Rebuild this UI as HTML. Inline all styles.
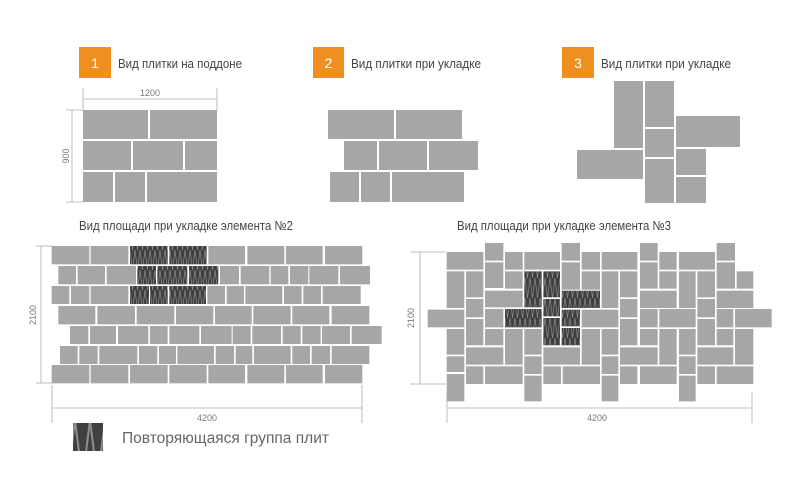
<!DOCTYPE html>
<html><head><meta charset="utf-8"><style>html,body{margin:0;padding:0;background:#fff}svg{display:block}</style></head><body>
<svg width="800" height="496" viewBox="0 0 800 496" xmlns="http://www.w3.org/2000/svg" font-family="'Liberation Sans', sans-serif">
<defs>
<pattern id="h" patternUnits="userSpaceOnUse" width="30" height="60">
<rect width="30" height="60" fill="#404040"/>
<polyline points="0,0 7.5,60 15,0 22.5,60 30,0" fill="none" stroke="#8e8e8e" stroke-width="2"/>
</pattern>
</defs>
<rect width="800" height="496" fill="#fff"/>
<rect x="79" y="47" width="32" height="31" fill="#ef8f1f"/>
<text x="95" y="68" font-size="14" fill="#fff" text-anchor="middle">1</text>
<text x="118" y="68" font-size="13" fill="#444" textLength="124" lengthAdjust="spacingAndGlyphs">Вид плитки на поддоне</text>
<rect x="313" y="47" width="31" height="31" fill="#ef8f1f"/>
<text x="328.5" y="68" font-size="14" fill="#fff" text-anchor="middle">2</text>
<text x="351" y="68" font-size="13" fill="#444" textLength="130" lengthAdjust="spacingAndGlyphs">Вид плитки при укладке</text>
<rect x="562" y="47" width="32" height="31" fill="#ef8f1f"/>
<text x="578" y="68" font-size="14" fill="#fff" text-anchor="middle">3</text>
<text x="601" y="68" font-size="13" fill="#444" textLength="130" lengthAdjust="spacingAndGlyphs">Вид плитки при укладке</text>

<g stroke="#aaa" stroke-width="0.8" fill="none">
<line x1="72" y1="110" x2="72" y2="202"/><line x1="66" y1="110" x2="83" y2="110"/><line x1="66" y1="202" x2="83" y2="202"/>
<line x1="83" y1="99" x2="217" y2="99"/><line x1="83" y1="88" x2="83" y2="110"/><line x1="217" y1="88" x2="217" y2="110"/>
</g>
<text x="150" y="96" font-size="9" fill="#777" text-anchor="middle">1200</text>
<text transform="translate(69,156) rotate(-90)" font-size="9" fill="#777" text-anchor="middle">900</text>

<g fill="#a6a6a6">
<rect x="83" y="110" width="65" height="29"/><rect x="150" y="110" width="67" height="29"/>
<rect x="83" y="141" width="48" height="29"/><rect x="133" y="141" width="50" height="29"/><rect x="185" y="141" width="32" height="29"/>
<rect x="83" y="172" width="30" height="30"/><rect x="115" y="172" width="30" height="30"/><rect x="147" y="172" width="70" height="30"/>
<rect x="328" y="110" width="66" height="29"/><rect x="396" y="110" width="66" height="29"/>
<rect x="344" y="141" width="33" height="29"/><rect x="379" y="141" width="48" height="29"/><rect x="429" y="141" width="49" height="29"/>
<rect x="330" y="172" width="29" height="30"/><rect x="361" y="172" width="29" height="30"/><rect x="392" y="172" width="72" height="30"/>
<rect x="614" y="81" width="29" height="67"/><rect x="645" y="81" width="29" height="46"/><rect x="645" y="129" width="29" height="28"/>
<rect x="676" y="116" width="64" height="31"/><rect x="577" y="150" width="66" height="29"/><rect x="645" y="159" width="29" height="44"/>
<rect x="676" y="149" width="30" height="26"/><rect x="676" y="177" width="30" height="26"/>
</g>

<text x="79" y="230" font-size="13" fill="#444" textLength="214" lengthAdjust="spacingAndGlyphs">Вид площади при укладке элемента №2</text>
<text x="457" y="230" font-size="13" fill="#444" textLength="214" lengthAdjust="spacingAndGlyphs">Вид площади при укладке элемента №3</text>

<g transform="translate(40,230) scale(0.33333)">
<g fill="#a6a6a6">
<rect x="35" y="48" width="113" height="55"/><rect x="152" y="48" width="113" height="55"/><rect x="505" y="48" width="110" height="55"/><rect x="622" y="48" width="111" height="55"/><rect x="738" y="48" width="110" height="55"/><rect x="855" y="48" width="112" height="55"/>
<rect x="55" y="108" width="53" height="55"/><rect x="113" y="108" width="82" height="55"/><rect x="200" y="108" width="88" height="55"/><rect x="540" y="108" width="57" height="55"/><rect x="602" y="108" width="86" height="55"/><rect x="692" y="108" width="53" height="55"/><rect x="750" y="108" width="55" height="55"/><rect x="808" y="108" width="87" height="55"/><rect x="900" y="108" width="90" height="55"/>
<rect x="35" y="168" width="53" height="54"/><rect x="93" y="168" width="55" height="54"/><rect x="152" y="168" width="113" height="54"/><rect x="502" y="168" width="53" height="54"/><rect x="560" y="168" width="52" height="54"/><rect x="616" y="168" width="111" height="54"/><rect x="732" y="168" width="53" height="54"/><rect x="790" y="168" width="53" height="54"/><rect x="848" y="168" width="114" height="54"/>
<rect x="55" y="228" width="111" height="55"/><rect x="172" y="228" width="113" height="55"/><rect x="290" y="228" width="113" height="55"/><rect x="408" y="228" width="112" height="55"/><rect x="525" y="228" width="110" height="55"/><rect x="640" y="228" width="112" height="55"/><rect x="757" y="228" width="111" height="55"/><rect x="875" y="228" width="113" height="55"/>
<rect x="90" y="288" width="55" height="54"/><rect x="150" y="288" width="78" height="54"/><rect x="234" y="288" width="91" height="54"/><rect x="330" y="288" width="53" height="54"/><rect x="388" y="288" width="90" height="54"/><rect x="483" y="288" width="92" height="54"/><rect x="578" y="288" width="54" height="54"/><rect x="637" y="288" width="86" height="54"/><rect x="728" y="288" width="54" height="54"/><rect x="787" y="288" width="55" height="54"/><rect x="846" y="288" width="84" height="54"/><rect x="935" y="288" width="90" height="54"/>
<rect x="60" y="348" width="53" height="54"/><rect x="118" y="348" width="55" height="54"/><rect x="178" y="348" width="114" height="54"/><rect x="297" y="348" width="55" height="54"/><rect x="357" y="348" width="51" height="54"/><rect x="412" y="348" width="110" height="54"/><rect x="527" y="348" width="55" height="54"/><rect x="587" y="348" width="50" height="54"/><rect x="642" y="348" width="110" height="54"/><rect x="757" y="348" width="53" height="54"/><rect x="815" y="348" width="55" height="54"/><rect x="875" y="348" width="113" height="54"/>
<rect x="35" y="405" width="113" height="55"/><rect x="152" y="405" width="113" height="55"/><rect x="270" y="405" width="113" height="55"/><rect x="388" y="405" width="112" height="55"/><rect x="505" y="405" width="110" height="55"/><rect x="622" y="405" width="111" height="55"/><rect x="738" y="405" width="110" height="55"/><rect x="855" y="405" width="112" height="55"/>
</g>
<g fill="url(#h)">
<rect x="270" y="48" width="113" height="55"/><rect x="388" y="48" width="112" height="55"/>
<rect x="292" y="108" width="56" height="55"/><rect x="352" y="108" width="90" height="55"/><rect x="447" y="108" width="88" height="55"/>
<rect x="270" y="168" width="57" height="54"/><rect x="330" y="168" width="53" height="54"/><rect x="388" y="168" width="110" height="54"/>
</g>
</g>
<g stroke="#aaa" stroke-width="0.8" fill="none">
<line x1="41" y1="246" x2="41" y2="383"/><line x1="36" y1="246" x2="52" y2="246"/><line x1="36" y1="383" x2="52" y2="383"/>
<line x1="52" y1="408" x2="362" y2="408"/><line x1="52" y1="385" x2="52" y2="423"/><line x1="362" y1="385" x2="362" y2="423"/>
</g>
<text transform="translate(36,315) rotate(-90)" font-size="9" fill="#777" text-anchor="middle">2100</text>
<text x="207" y="421" font-size="9" fill="#777" text-anchor="middle">4200</text>
<rect x="73" y="423" width="30" height="28" fill="url(#h)"/>
<text x="122" y="443" font-size="15.5" fill="#666" textLength="207" lengthAdjust="spacingAndGlyphs">Повторяющаяся группа плит</text>

<g transform="translate(425,238) scale(0.33333)">
<g fill="#a6a6a6">
<rect x="65" y="42" width="110" height="53"/><rect x="180" y="15" width="55" height="53"/><rect x="180" y="73" width="55" height="77"/><rect x="240" y="42" width="53" height="53"/><rect x="298" y="42" width="107" height="53"/><rect x="410" y="15" width="55" height="53"/><rect x="410" y="73" width="55" height="82"/><rect x="470" y="42" width="55" height="53"/>
<rect x="65" y="100" width="53" height="110"/><rect x="123" y="100" width="52" height="78"/><rect x="240" y="100" width="53" height="52"/><rect x="470" y="100" width="55" height="55"/><rect x="180" y="158" width="113" height="50"/><rect x="123" y="183" width="52" height="55"/>
<rect x="8" y="215" width="110" height="53"/><rect x="180" y="213" width="55" height="55"/><rect x="470" y="215" width="110" height="53"/><rect x="123" y="243" width="52" height="79"/>
<rect x="65" y="273" width="53" height="77"/><rect x="180" y="273" width="55" height="49"/><rect x="240" y="273" width="53" height="107"/><rect x="298" y="273" width="52" height="77"/><rect x="470" y="273" width="55" height="107"/>
<rect x="123" y="328" width="112" height="52"/><rect x="355" y="328" width="110" height="52"/><rect x="65" y="355" width="53" height="47"/><rect x="298" y="355" width="52" height="53"/>
<rect x="123" y="385" width="52" height="53"/><rect x="180" y="385" width="113" height="53"/><rect x="355" y="385" width="53" height="53"/><rect x="413" y="385" width="112" height="53"/>
<rect x="65" y="408" width="53" height="82"/><rect x="298" y="413" width="52" height="77"/>
</g>
<g fill="url(#h)">
<rect x="298" y="100" width="52" height="108"/><rect x="355" y="100" width="50" height="78"/><rect x="355" y="183" width="50" height="52"/><rect x="410" y="158" width="115" height="52"/>
<rect x="240" y="213" width="110" height="55"/><rect x="355" y="240" width="50" height="82"/><rect x="410" y="215" width="55" height="50"/><rect x="410" y="270" width="55" height="52"/>
</g>
</g>
<g transform="translate(600,238) scale(0.33333)" fill="#a6a6a6">
<rect x="5" y="42" width="107" height="53"/><rect x="120" y="15" width="53" height="53"/><rect x="120" y="73" width="53" height="79"/><rect x="178" y="42" width="52" height="53"/><rect x="237" y="42" width="108" height="53"/><rect x="350" y="15" width="55" height="53"/><rect x="350" y="73" width="55" height="79"/>
<rect x="5" y="100" width="50" height="110"/><rect x="60" y="100" width="52" height="78"/><rect x="178" y="100" width="52" height="52"/><rect x="237" y="100" width="50" height="110"/><rect x="292" y="100" width="53" height="78"/><rect x="410" y="100" width="50" height="52"/>
<rect x="120" y="158" width="110" height="52"/><rect x="60" y="183" width="52" height="55"/><rect x="292" y="183" width="53" height="55"/><rect x="350" y="158" width="110" height="52"/>
<rect x="120" y="213" width="53" height="55"/><rect x="178" y="213" width="109" height="55"/><rect x="350" y="213" width="50" height="55"/><rect x="405" y="213" width="110" height="55"/>
<rect x="60" y="243" width="52" height="79"/><rect x="5" y="273" width="50" height="77"/><rect x="120" y="273" width="53" height="49"/><rect x="178" y="273" width="52" height="107"/><rect x="237" y="273" width="50" height="77"/><rect x="292" y="243" width="53" height="79"/><rect x="350" y="273" width="50" height="49"/><rect x="405" y="273" width="55" height="107"/>
<rect x="60" y="328" width="113" height="52"/><rect x="292" y="328" width="108" height="52"/><rect x="5" y="355" width="50" height="53"/><rect x="237" y="355" width="50" height="53"/>
<rect x="60" y="385" width="52" height="53"/><rect x="120" y="385" width="110" height="53"/><rect x="292" y="385" width="53" height="53"/><rect x="350" y="385" width="110" height="53"/>
<rect x="5" y="413" width="50" height="77"/><rect x="237" y="413" width="50" height="77"/>
</g>
<g stroke="#aaa" stroke-width="0.8" fill="none">
<line x1="420" y1="252" x2="420" y2="384"/><line x1="410" y1="252" x2="446" y2="252"/><line x1="410" y1="384" x2="446" y2="384"/>
<line x1="448" y1="408" x2="751" y2="408"/><line x1="447" y1="392" x2="447" y2="423"/><line x1="752" y1="392" x2="752" y2="423"/>
</g>
<text transform="translate(414,318) rotate(-90)" font-size="9" fill="#777" text-anchor="middle">2100</text>
<text x="597" y="421" font-size="9" fill="#777" text-anchor="middle">4200</text>
</svg>
</body></html>
